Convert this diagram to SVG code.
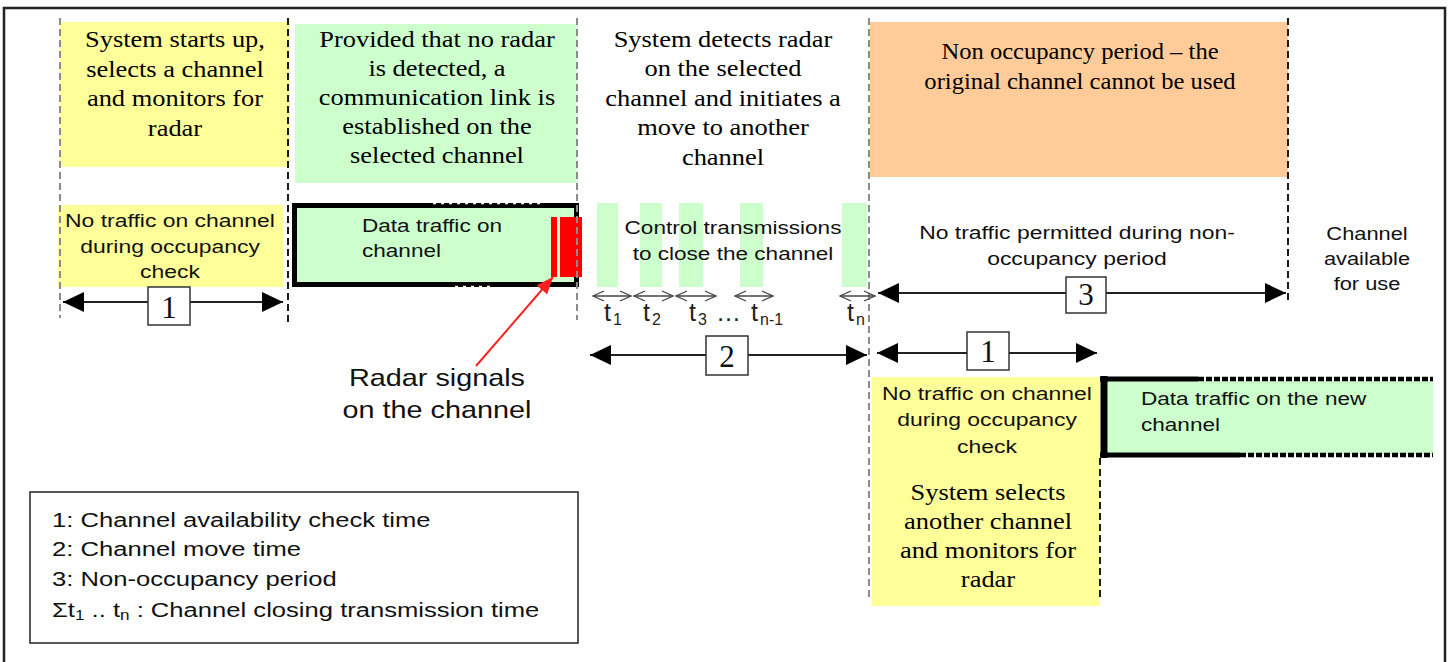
<svg xmlns="http://www.w3.org/2000/svg" width="1449" height="662" viewBox="0 0 1449 662">
<style>
.tm{font-family:"Liberation Serif","Times New Roman",serif;font-size:23px;fill:#000;text-anchor:middle}
.ar{font-family:"Liberation Sans",Arial,sans-serif;font-size:18.5px;fill:#111;text-anchor:middle}
.al{font-family:"Liberation Sans",Arial,sans-serif;font-size:18.5px;fill:#111}
.lg{font-family:"Liberation Sans",Arial,sans-serif;font-size:21px;fill:#111}
.tl{font-family:"Liberation Sans",Arial,sans-serif;font-size:25px;fill:#222}
.ts{font-family:"Liberation Sans",Arial,sans-serif;font-size:16px;fill:#222}
.num{font-family:"Liberation Serif","Times New Roman",serif;font-size:31px;fill:#111;text-anchor:middle}
.yel{fill:#ffff99}
.grn{fill:#ccffcc}
.org{fill:#ffcc99}
.dk{stroke:#1a1a1a;stroke-width:2;stroke-dasharray:7 4;fill:none}
.lt{stroke:#8c8c8c;stroke-width:2;stroke-dasharray:7 4;fill:none}
.arr{stroke:#222;stroke-width:2;fill:none;marker-start:url(#ah);marker-end:url(#ah)}
.sm{stroke:#444;stroke-width:1.3;fill:none;marker-start:url(#oh);marker-end:url(#oh)}
.nbox{fill:#fff;stroke:#333;stroke-width:1.5}
</style>
<defs>
<marker id="ah" markerUnits="userSpaceOnUse" markerWidth="22" markerHeight="20" refX="21" refY="10" orient="auto-start-reverse"><path d="M0,0 L21,10 L0,20 Z" fill="#000"/></marker>
<marker id="oh" markerUnits="userSpaceOnUse" markerWidth="14" markerHeight="12" refX="12" refY="6" orient="auto-start-reverse"><path d="M1,1 L12,6 L1,11" fill="none" stroke="#444" stroke-width="1.3"/></marker>
<marker id="rh" markerUnits="userSpaceOnUse" markerWidth="18" markerHeight="14" refX="17" refY="7" orient="auto"><path d="M0,0 L17,7 L0,14 Z" fill="#ff2020"/></marker>
</defs>
<rect x="0" y="0" width="1449" height="662" fill="#fff"/>
<rect x="4" y="8" width="1441" height="700" fill="#fff" stroke="#222" stroke-width="2.5"/>

<g id="phase1-top">
<rect class="yel" x="60" y="22" width="230" height="145"/>
<g transform="translate(175,0) scale(1.15,1)">
<text class="tm" x="0" y="47">System starts up,</text>
<text class="tm" x="0" y="77">selects a channel</text>
<text class="tm" x="0" y="106">and monitors for</text>
<text class="tm" x="0" y="136">radar</text>
</g>
</g>

<g id="phase1-bottom">
<rect class="yel" x="58" y="205" width="225" height="82"/>
<g transform="translate(170,0) scale(1.24,1)">
<text class="ar" x="0" y="227">No traffic on channel</text>
<text class="ar" x="0" y="253">during occupancy</text>
<text class="ar" x="0" y="278">check</text>
</g>
</g>

<g id="phase2-top">
<rect class="grn" x="295" y="24" width="282" height="159"/>
<g transform="translate(437,0) scale(1.15,1)">
<text class="tm" x="0" y="47">Provided that no radar</text>
<text class="tm" x="0" y="76">is detected, a</text>
<text class="tm" x="0" y="105">communication link is</text>
<text class="tm" x="0" y="134">established on the</text>
<text class="tm" x="0" y="163">selected channel</text>
</g>
</g>

<g id="data-traffic">
<rect class="grn" x="294.5" y="205.5" width="282" height="79" stroke="#000" stroke-width="5"/>
<line x1="433" y1="203.5" x2="540" y2="203.5" stroke="#fff" stroke-width="1.5" stroke-dasharray="3 5"/>
<line x1="455" y1="286.5" x2="490" y2="286.5" stroke="#fff" stroke-width="1.5" stroke-dasharray="3 5"/>
<g transform="translate(362,0) scale(1.22,1)">
<text class="al" x="0" y="232">Data traffic on</text>
<text class="al" x="0" y="257">channel</text>
</g>
<rect x="551" y="217" width="6" height="60" fill="#ff0000"/>
<rect x="560" y="217" width="22" height="60" fill="#ff0000"/>
</g>

<g id="radar-label">
<g transform="translate(437,0) scale(1.2,1)">
<text class="ar" x="0" y="386" style="font-size:24px">Radar signals</text>
<text class="ar" x="0" y="418" style="font-size:24px">on the channel</text>
</g>
</g>

<g id="phase3-top">
<g transform="translate(723,0) scale(1.15,1)">
<text class="tm" x="0" y="47">System detects radar</text>
<text class="tm" x="0" y="76.5">on the selected</text>
<text class="tm" x="0" y="106">channel and initiates a</text>
<text class="tm" x="0" y="135.5">move to another</text>
<text class="tm" x="0" y="165">channel</text>
</g>
</g>

<g id="control-transmissions">
<rect class="grn" x="597" y="203" width="21" height="84"/>
<rect class="grn" x="640" y="203" width="22" height="84"/>
<rect class="grn" x="679" y="203" width="24" height="84"/>
<rect class="grn" x="740" y="203" width="23" height="84"/>
<rect class="grn" x="842" y="203" width="25" height="84"/>
<g transform="translate(733,0) scale(1.22,1)">
<text class="ar" x="0" y="234">Control transmissions</text>
<text class="ar" x="0" y="260">to close the channel</text>
</g>
<text class="tl" x="604" y="321">t</text><text class="ts" x="613" y="325">1</text>
<text class="tl" x="643" y="321">t</text><text class="ts" x="652" y="325">2</text>
<text class="tl" x="689" y="321">t</text><text class="ts" x="698" y="325">3</text>
<text class="tl" x="716" y="321">…</text>
<text class="tl" x="751" y="321">t</text><text class="ts" x="760" y="325">n-1</text>
<text class="tl" x="847" y="321">t</text><text class="ts" x="856" y="325">n</text>
</g>

<g id="phase4-top">
<rect class="org" x="870" y="22" width="418" height="155"/>
<g transform="translate(1080,0) scale(1.07,1)">
<text class="tm" x="0" y="59">Non occupancy period – the</text>
<text class="tm" x="0" y="89">original channel cannot be used</text>
</g>
</g>

<g id="no-traffic-permitted">
<g transform="translate(1077,0) scale(1.24,1)">
<text class="ar" x="0" y="239">No traffic permitted during non-</text>
<text class="ar" x="0" y="265">occupancy period</text>
</g>
</g>

<g id="channel-available">
<g transform="translate(1367,0) scale(1.18,1)">
<text class="ar" x="0" y="240">Channel</text>
<text class="ar" x="0" y="265">available</text>
<text class="ar" x="0" y="290">for use</text>
</g>
</g>

<g id="phase4-bottom">
<rect class="yel" x="872" y="377" width="228" height="229"/>
<g transform="translate(987,0) scale(1.24,1)">
<text class="ar" x="0" y="400">No traffic on channel</text>
<text class="ar" x="0" y="426.5">during occupancy</text>
<text class="ar" x="0" y="453">check</text>
</g>
<g transform="translate(988,0) scale(1.15,1)">
<text class="tm" x="0" y="500">System selects</text>
<text class="tm" x="0" y="529">another channel</text>
<text class="tm" x="0" y="558">and monitors for</text>
<text class="tm" x="0" y="587">radar</text>
</g>
</g>

<g id="new-data-traffic">
<rect class="grn" x="1104" y="381" width="329" height="73"/>
<line x1="1104" y1="376" x2="1104" y2="458" stroke="#000" stroke-width="7"/>
<line x1="1100" y1="379" x2="1198" y2="379" stroke="#000" stroke-width="5"/>
<line x1="1198" y1="379" x2="1433" y2="379" stroke="#000" stroke-width="4.5" stroke-dasharray="6 2"/>
<line x1="1100" y1="455" x2="1240" y2="455" stroke="#000" stroke-width="5"/>
<line x1="1240" y1="455" x2="1433" y2="455" stroke="#000" stroke-width="4.5" stroke-dasharray="6 2"/>
<g transform="translate(1141,0) scale(1.22,1)">
<text class="al" x="0" y="405">Data traffic on the new</text>
<text class="al" x="0" y="431">channel</text>
</g>
</g>

<g id="legend">
<rect x="30" y="492" width="548" height="151" fill="none" stroke="#222" stroke-width="1.5"/>
<g transform="translate(52,0) scale(1.22,1)">
<text class="lg" x="0" y="527">1: Channel availability check time</text>
<text class="lg" x="0" y="556">2: Channel move time</text>
<text class="lg" x="0" y="586">3: Non-occupancy period</text>
<text class="lg" x="0" y="617">Σt<tspan font-size="14" dy="3">1</tspan><tspan dy="-3"> .. t</tspan><tspan font-size="14" dy="3">n</tspan><tspan dy="-3"> : Channel closing transmission time</tspan></text>
</g>
</g>

<g id="guides">
<line class="lt" x1="60" y1="18" x2="60" y2="318"/>
<line class="dk" x1="288" y1="18" x2="288" y2="322"/>
<line class="lt" x1="577" y1="18" x2="577" y2="320"/>
<line class="lt" x1="869" y1="18" x2="869" y2="600"/>
<line class="dk" x1="1288" y1="18" x2="1288" y2="300"/>
<line class="dk" x1="1100" y1="458" x2="1100" y2="600"/>
</g>

<g id="connectors">
<line class="arr" x1="63" y1="302" x2="283" y2="302"/>
<line class="arr" x1="590" y1="355" x2="867" y2="355"/>
<line class="arr" x1="878" y1="293" x2="1286" y2="293"/>
<line class="arr" x1="877" y1="353" x2="1097" y2="353"/>
<line class="sm" x1="593" y1="296" x2="631" y2="296"/>
<line class="sm" x1="634" y1="296" x2="673" y2="296"/>
<line class="sm" x1="676" y1="296" x2="716" y2="296"/>
<line class="sm" x1="735" y1="296" x2="773" y2="296"/>
<line class="sm" x1="840" y1="296" x2="875" y2="296"/>
<line x1="476" y1="366" x2="553" y2="277" stroke="#ff2020" stroke-width="2" marker-end="url(#rh)"/>
</g>

<g id="period-labels">
<rect class="nbox" x="148" y="287" width="42" height="38"/>
<text class="num" x="169" y="318">1</text>
<rect class="nbox" x="706" y="336" width="42" height="39"/>
<text class="num" x="727" y="367">2</text>
<rect class="nbox" x="1066" y="277" width="40" height="36"/>
<text class="num" x="1086" y="305">3</text>
<rect class="nbox" x="967" y="332" width="42" height="38"/>
<text class="num" x="988" y="362">1</text>
</g>
</svg>
